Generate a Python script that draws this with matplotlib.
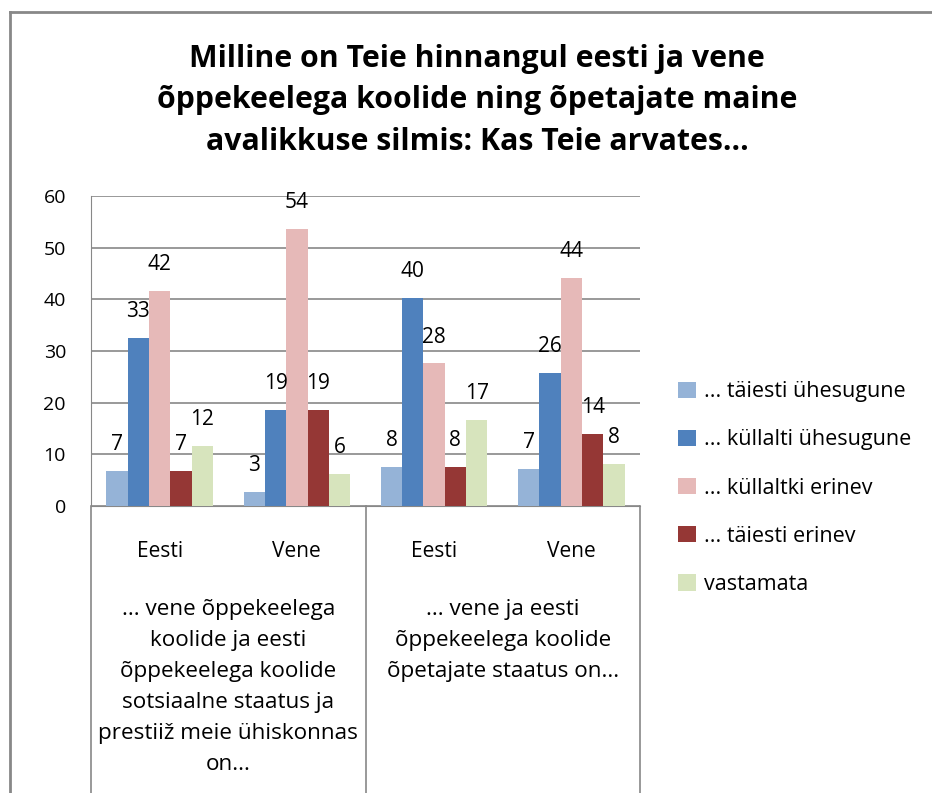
import numpy as np
import matplotlib.pyplot as plt
from matplotlib.lines import Line2D

plt.rcParams['font.family'] = ['Open Sans', 'DejaVu Sans']

title = "Milline on Teie hinnangul eesti ja vene\nõppekeelega koolide ning õpetajate maine\navalikkuse silmis: Kas Teie arvates..."

categories = ["Eesti", "Vene", "Eesti", "Vene"]
groups = ["... vene õppekeelega\nkoolide ja eesti\nõppekeelega koolide\nsotsiaalne staatus ja\nprestiiž meie ühiskonnas\non...",
          "... vene ja eesti\nõppekeelega koolide\nõpetajate staatus on..."]

series = ["... täiesti ühesugune", "... küllalti ühesugune", "... küllaltki erinev",
          "... täiesti erinev", "vastamata"]
colors = ["#95B3D7", "#4F81BD", "#E6B9B8", "#953735", "#D7E4BD"]

taiesti_uhesugune = [6.8, 2.7, 7.6, 7.2]
kullalti_uhesugune = [32.6, 18.6, 40.3, 25.7]
kullaltki_erinev = [41.6, 53.6, 27.6, 44.1]
taiesti_erinev = [6.8, 18.6, 7.6, 13.9]
vastamata = [11.6, 6.2, 16.6, 8.1]

values = [taiesti_uhesugune, kullalti_uhesugune, kullaltki_erinev, taiesti_erinev, vastamata]

W, H = 932, 793
fig = plt.figure(figsize=(W / 100, H / 100), dpi=100)

def fx(px):
    return px / W

def fy(py):
    return 1 - py / H

ax = fig.add_axes([fx(91), fy(506), fx(640) - fx(91), fy(196) - fy(506)])

x = np.arange(len(categories))
bw = 0.155
for i, (name, vals, c) in enumerate(zip(series, values, colors)):
    pos = x + (i - 2) * bw
    ax.bar(pos, vals, bw, color=c, label=name, zorder=3)
    for p, v in zip(pos, vals):
        ax.annotate(f"{round(v)}", (p, v), xytext=(0, 19), textcoords='offset points',
                    ha='center', va='center', fontsize=15, zorder=4)

ax.set_xlim(-0.5, 3.5)
ax.set_ylim(0, 60)
ax.set_yticks(range(0, 61, 10))
ax.tick_params(axis='y', length=0, labelsize=14, pad=18)
ax.yaxis.grid(True, color='#888888', linewidth=1.2, zorder=0)
for s in ['top', 'right']:
    ax.spines[s].set_visible(False)
ax.spines['left'].set_color('#888888')
ax.spines['bottom'].set_color('#888888')

ax.set_xticks(x, categories)
ax.tick_params(axis='x', length=0, labelsize=15, pad=25)

# group labels below
for gi, g in enumerate(groups):
    ax.text(0.5 + 2 * gi, -0.30, g, transform=ax.get_xaxis_transform(),
            ha='center', va='top', fontsize=16.2, linespacing=1.62)

# table separators
for xv in [-0.5, 1.5, 3.5]:
    ax.plot([xv, xv], [0, -1.0], transform=ax.get_xaxis_transform(),
            color='#888888', linewidth=1.2, clip_on=False)

# outer frame
fig.add_artist(Line2D([fx(10), fx(10)], [fy(12), 0], color='#888888', linewidth=2))
fig.add_artist(Line2D([fx(10), 1], [fy(12), fy(12)], color='#888888', linewidth=2))

fig.text(fx(477), fy(100), title, ha='center', va='center', fontsize=21.8,
         fontweight='bold', linespacing=1.5)

fig.legend(loc='center left', bbox_to_anchor=(fx(659), fy(488)), frameon=False,
           fontsize=15.5, handlelength=0.8, handleheight=0.8, handletextpad=0.4,
           labelspacing=1.26)

fig.savefig("out.png", dpi=100)
